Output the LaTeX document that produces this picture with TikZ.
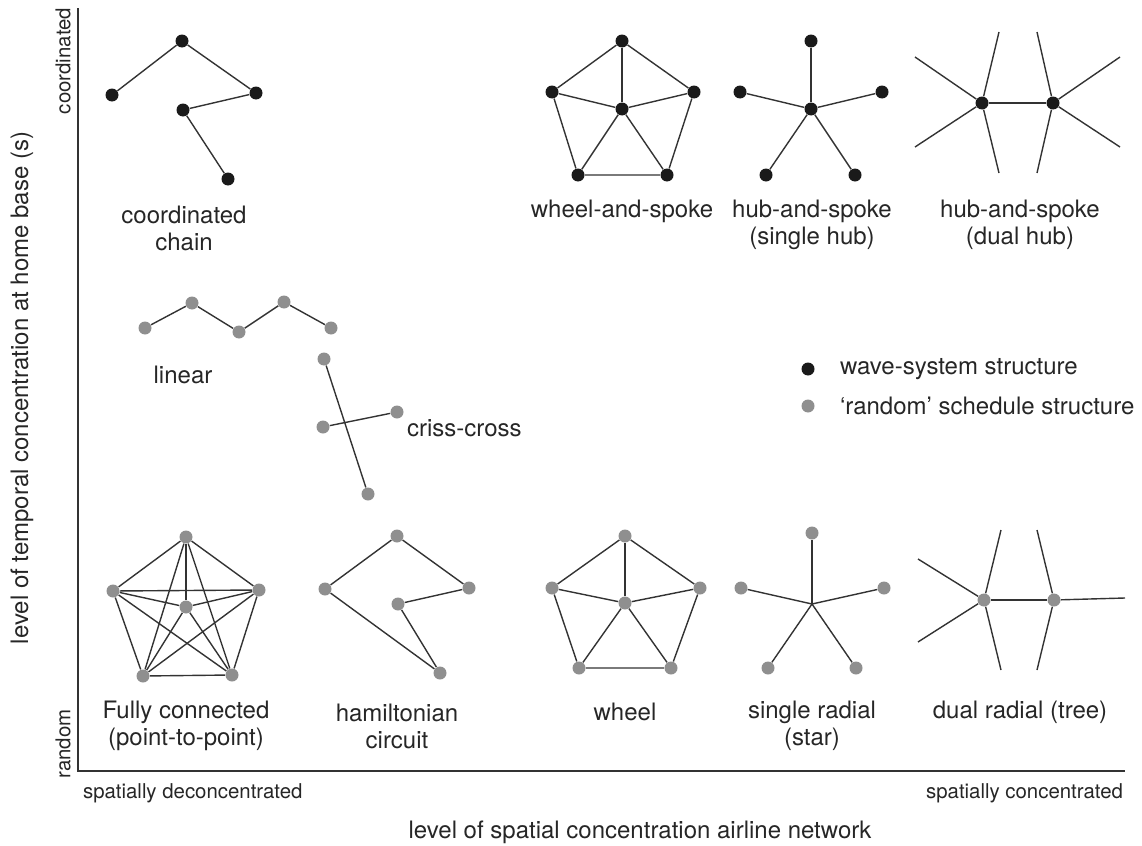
\documentclass[tikz,border=0pt]{standalone}
\usepackage{fontspec}
\setmainfont{TeX Gyre Heros}
\usepackage{tikz}
\usetikzlibrary{positioning}
\definecolor{wavecol}{HTML}{1A1A1A}
\definecolor{schedcol}{HTML}{8F8F8F}
\definecolor{linecol}{HTML}{333333}
\tikzset{
  wave/.style={circle,fill=wavecol,inner sep=0pt,minimum size=6.5pt},
  sched/.style={circle,fill=schedcol,inner sep=0pt,minimum size=6.5pt},
  link/.style={draw=linecol,line width=0.7pt},
  axis/.style={draw=black!80,line width=0.9pt},
  lbl/.style={align=center,font=\fontsize{12}{13.5}\selectfont,text=black!85},
  small/.style={font=\fontsize{10.2}{12}\selectfont,text=black!85}
}

\begin{document}
\begin{tikzpicture}[x=0.5pt,y=-0.5pt]
    \useasboundingbox (0,0) rectangle (1142,846);

    % axes
    \draw[axis] (78,8) -- (78,771) -- (1125,771);
    \node[small,rotate=90] (coord) at (63,61) {coordinated};
    \node[small,rotate=90] (rand) at (63,744) {random};
    \node[small,anchor=west] (decon) at (76,793) {spatially deconcentrated};
    \node[small,anchor=east] (con) at (1130,793) {spatially concentrated};
    \node[lbl,rotate=90] (ylab) at (22,388) {level of temporal concentration at home base (s)};
    \node[lbl] (xlab) at (640,832) {level of spatial concentration airline network};

    % coordinated chain
    \node[wave] (cc1) at (112,95) {};
    \node[wave] (cc2) at (182,41) {};
    \node[wave] (cc3) at (256,93) {};
    \node[wave] (cc4) at (183,110) {};
    \node[wave] (cc5) at (228,179) {};
    \draw[link] (cc1) -- (cc2) -- (cc3) -- (cc4) -- (cc5);
    \node[lbl] (cclab) at (184,228) {coordinated\\chain};

    % wheel-and-spoke
    \node[wave] (ws0) at (622,109) {};
    \node[wave] (ws1) at (622,41) {};
    \node[wave] (ws2) at (694,92) {};
    \node[wave] (ws3) at (667,175) {};
    \node[wave] (ws4) at (578,175) {};
    \node[wave] (ws5) at (552,92) {};
    \draw[link] (ws1) -- (ws2) -- (ws3) -- (ws4) -- (ws5) -- (ws1);
    \foreach \i in {1,...,5}
      \draw[link] (ws0) -- (ws\i);
    \node[lbl] (wslab) at (622,211) {wheel-and-spoke};

    % hub-and-spoke, single hub
    \node[wave] (hs0) at (811,109) {};
    \node[wave] (hs1) at (811,41) {};
    \node[wave] (hs2) at (882,92) {};
    \node[wave] (hs3) at (855,175) {};
    \node[wave] (hs4) at (766,175) {};
    \node[wave] (hs5) at (740,92) {};
    \foreach \i in {1,...,5}
      \draw[link] (hs0) -- (hs\i);
    \node[lbl] (hslab) at (812,225) {hub-and-spoke\\(single hub)};

    % hub-and-spoke, dual hub
    \node[wave] (dh1) at (982,103) {};
    \node[wave] (dh2) at (1053,103) {};
    \coordinate (dha) at (915,57);
    \coordinate (dhb) at (915,147);
    \coordinate (dhc) at (999,32);
    \coordinate (dhd) at (999,173);
    \coordinate (dhe) at (1037,32);
    \coordinate (dhf) at (1037,173);
    \coordinate (dhg) at (1120,57);
    \coordinate (dhh) at (1120,147);
    \draw[link] (dh1) -- (dh2);
    \foreach \e in {a,b,c,d}
      \draw[link] (dh1) -- (dh\e);
    \foreach \e in {e,f,g,h}
      \draw[link] (dh2) -- (dh\e);
    \node[lbl] (dhlab) at (1020,225) {hub-and-spoke\\(dual hub)};

    % linear
    \node[sched] (ln1) at (145,328) {};
    \node[sched] (ln2) at (192,303) {};
    \node[sched] (ln3) at (239,332) {};
    \node[sched] (ln4) at (284,302) {};
    \node[sched] (ln5) at (331,328) {};
    \draw[link] (ln1) -- (ln2) -- (ln3) -- (ln4) -- (ln5);
    \node[lbl] (lnlab) at (183,375) {linear};

    % criss-cross
    \node[sched] (cx1) at (324,359) {};
    \node[sched] (cx2) at (368,494) {};
    \node[sched] (cx3) at (323,427) {};
    \node[sched] (cx4) at (397,412) {};
    \draw[link] (cx1) -- (cx2);
    \draw[link] (cx3) -- (cx4);
    \node[lbl,anchor=west] (cxlab) at (400,428) {criss-cross};

    % legend
    \node[wave] (lgw) at (808,369) {};
    \node[lbl,anchor=west] (lgwt) at (833,369) {wave-system structure};
    \node[sched] (lgs) at (808,406) {};
    \node[lbl,anchor=west] (lgst) at (833,406) {‘random’ schedule structure};

    % fully connected
    \node[sched] (fc1) at (186,537) {};
    \node[sched] (fc2) at (259,590) {};
    \node[sched] (fc3) at (232,675) {};
    \node[sched] (fc4) at (143,676) {};
    \node[sched] (fc5) at (113,591) {};
    \node[sched] (fc6) at (186,607) {};
    \foreach \i/\j in {1/2,1/3,1/4,1/5,1/6,2/3,2/4,2/5,2/6,3/4,3/5,3/6,4/5,4/6,5/6}
      \draw[link] (fc\i) -- (fc\j);
    \node[lbl] (fclab) at (186,726) {Fully connected\\(point-to-point)};

    % hamiltonian circuit
    \node[sched] (hc1) at (397,536) {};
    \node[sched] (hc2) at (469,588) {};
    \node[sched] (hc3) at (398,604) {};
    \node[sched] (hc4) at (440,673) {};
    \node[sched] (hc5) at (325,589) {};
    \draw[link] (hc1) -- (hc2) -- (hc3) -- (hc4) -- (hc5) -- (hc1);
    \node[lbl] (hclab) at (397,726) {hamiltonian\\circuit};

    % wheel
    \node[sched] (wh0) at (625,603) {};
    \node[sched] (wh1) at (625,536) {};
    \node[sched] (wh2) at (700,588) {};
    \node[sched] (wh3) at (671,668) {};
    \node[sched] (wh4) at (579,668) {};
    \node[sched] (wh5) at (552,588) {};
    \draw[link] (wh1) -- (wh2) -- (wh3) -- (wh4) -- (wh5) -- (wh1);
    \foreach \i in {1,...,5}
      \draw[link] (wh0) -- (wh\i);
    \node[lbl] (whlab) at (625,712) {wheel};

    % single radial
    \coordinate (sr0) at (812,604);
    \node[sched] (sr1) at (812,533) {};
    \node[sched] (sr2) at (884,588) {};
    \node[sched] (sr3) at (856,668) {};
    \node[sched] (sr4) at (768,668) {};
    \node[sched] (sr5) at (741,588) {};
    \foreach \i in {1,...,5}
      \draw[link] (sr0) -- (sr\i);
    \node[lbl] (srlab) at (812,726) {single radial\\(star)};

    % dual radial
    \node[sched] (dr1) at (984,600) {};
    \node[sched] (dr2) at (1054,600) {};
    \coordinate (dra) at (918,559);
    \coordinate (drb) at (918,642);
    \coordinate (drc) at (1001,530);
    \coordinate (drd) at (1001,670);
    \coordinate (dre) at (1037,530);
    \coordinate (drf) at (1037,670);
    \coordinate (drg) at (1125,598);
    \draw[link] (dr1) -- (dr2);
    \foreach \e in {a,b,c,d}
      \draw[link] (dr1) -- (dr\e);
    \foreach \e in {e,f,g}
      \draw[link] (dr2) -- (dr\e);
    \node[lbl] (drlab) at (1020,712) {dual radial (tree)};
\end{tikzpicture}
\end{document}
